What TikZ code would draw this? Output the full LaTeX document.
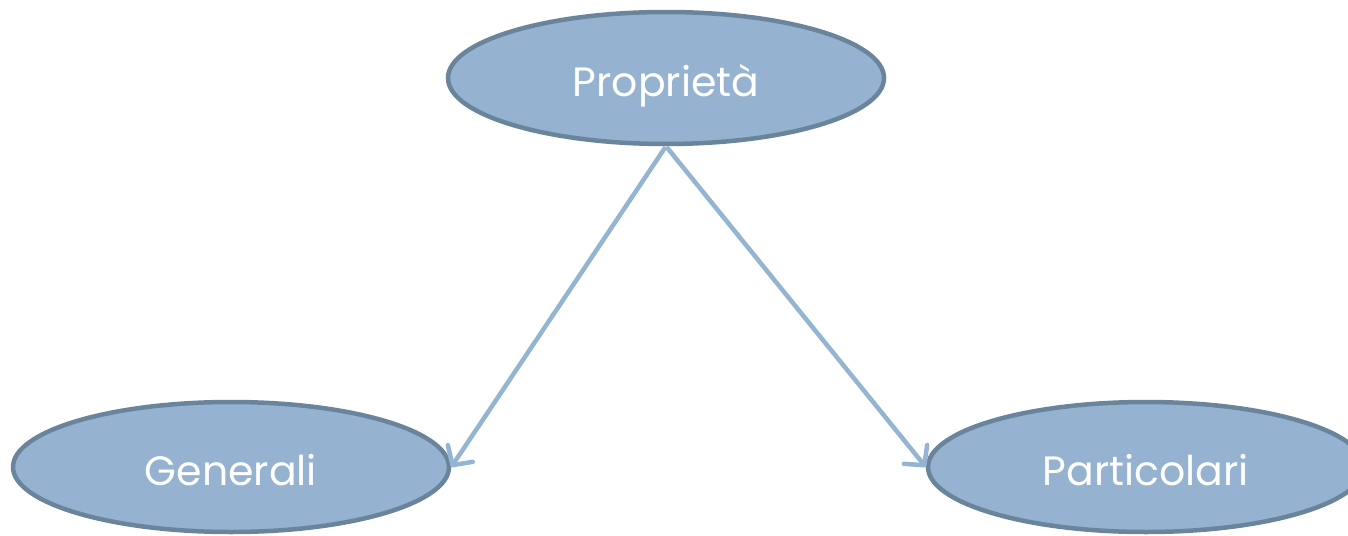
\documentclass[tikz,border=0pt]{standalone}
\usepackage{fontspec}
\setmainfont{Poppins}
\usetikzlibrary{shapes.geometric,arrows.meta}
\definecolor{efill}{HTML}{95B3D0}
\definecolor{edraw}{HTML}{6A849C}
\definecolor{aline}{HTML}{94B4D2}
\newcommand{\ctext}[1]{\raisebox{-18pt}[0pt][0pt]{#1}}
\tikzset{
  ell/.style={ellipse, fill=efill, draw=edraw, line width=4.5pt, minimum width=436pt, minimum height=132pt, inner sep=0pt, text=white, font=\fontsize{41}{48}\selectfont},
  conn/.style={draw=aline, line width=4.5pt, -{Straight Barb[length=14pt,width=30pt,line cap=round,line join=round]}, shorten <=1pt}
}
\begin{document}
\begin{tikzpicture}[x=1pt,y=-1pt]
\useasboundingbox (0,0) rectangle (1348,535);
\clip (0,0) rectangle (1348,535);
\node[ell] (top) at (666,78) {\ctext{Proprietà}};
\node[ell, minimum height=130pt] (gen) at (231,467) {\ctext{Generali}};
\node[ell, minimum height=130pt] (par) at (1146,467) {\ctext{Particolari}};
\draw[conn] (top.south) -- (gen.east);
\draw[conn] (top.south) -- (par.west);
\end{tikzpicture}
\end{document}
